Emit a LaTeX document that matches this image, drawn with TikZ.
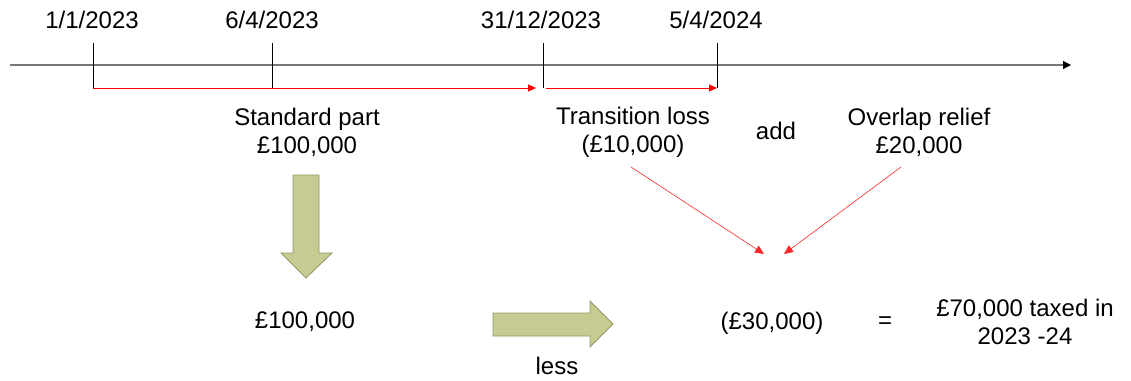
\documentclass[tikz,border=0pt]{standalone}
\usepackage{fontspec}
\setmainfont{Liberation Sans}
\usetikzlibrary{arrows.meta}
\definecolor{olivefill}{RGB}{198,203,145}
\definecolor{olivedraw}{RGB}{150,152,100}
\definecolor{axisgray}{RGB}{120,120,120}
\begin{document}
\begin{tikzpicture}[x=1pt,y=-1pt,
  lbl/.style={font=\fontsize{24}{28}\selectfont, inner sep=0pt, align=center},
  tick/.style={draw=black, line width=0.8pt},
  redarr/.style={draw=red, line width=0.8pt, -{Triangle[length=8pt,width=7pt]}},
  thinred/.style={draw=red!85, line width=0.6pt, -{Triangle[length=9pt,width=8pt]}},
  bigarrow/.style={fill=olivefill, draw=olivedraw, line width=0.8pt}]
\useasboundingbox (0,0) rectangle (1131,380);
% axis
\coordinate (axL) at (10,65);
\coordinate (axR) at (1071,65);
\draw[axisgray, line width=1.2pt, -{Triangle[length=8pt,width=8pt,black]}] (axL) -- (axR);
% ticks
\foreach \n/\x in {a/93,b/272,c/543,d/717}{
  \coordinate (top-\n) at (\x,43);
  \coordinate (bot-\n) at (\x,88);
  \draw[tick] (top-\n) -- (bot-\n);
}
% dates
\node[lbl] (d1) at (92,20) {1/1/2023};
\node[lbl] (d2) at (272,20) {6/4/2023};
\node[lbl] (d3) at (541,20) {31/12/2023};
\node[lbl] (d4) at (716,20) {5/4/2024};
% red period arrows
\coordinate (r1e) at (536,88);
\coordinate (r2s) at (546,88);
\draw[redarr] (bot-a) -- (r1e);
\draw[redarr] (r2s) -- (bot-d);
% labels
\node[lbl] (std) at (307,132) {Standard part\\£100,000};
\node[lbl] (tl) at (633,132) {Transition loss\\(£10,000)};
\node[lbl] (add) at (776,131) {add};
\node[lbl] (ov) at (919,132) {Overlap relief\\£20,000};
% thin red arrows
\coordinate (tls) at (631,167);
\coordinate (tle) at (764,254);
\coordinate (ovs) at (901,167);
\coordinate (ove) at (784,254);
\draw[thinred] (tls) -- (tle);
\draw[thinred] (ovs) -- (ove);
% down arrow
\draw[bigarrow] (293,175) -- (319,175) -- (319,253) -- (332,253) -- (306,278) -- (281,253) -- (293,253) -- cycle;
% right arrow
\draw[bigarrow] (493,313) -- (590,313) -- (590,301) -- (613,324) -- (590,347) -- (590,336) -- (493,336) -- cycle;
% bottom row
\node[lbl] (hund) at (305,322) {£100,000};
\node[lbl] (less) at (557,366) {less};
\node[lbl] (thirty) at (772,323) {(£30,000)};
\node[lbl] (eq) at (885,323) {=};
\node[lbl] (res) at (1025,322) {£70,000 taxed in\\2023 -24};
\end{tikzpicture}
\end{document}
